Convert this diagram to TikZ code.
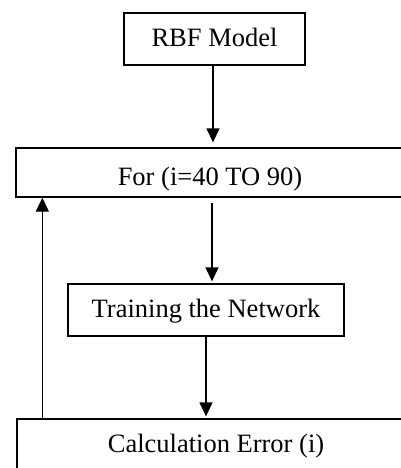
\documentclass[tikz,border=0pt]{standalone}
\usepackage{fontspec}
\setmainfont{Liberation Serif}
\usetikzlibrary{arrows.meta}
\begin{document}
\begin{tikzpicture}[x=1pt,y=-1pt,
  box/.style={draw, line width=1.3pt, inner sep=0pt, font=\fontsize{26.5}{30}\selectfont},
  arr/.style={line width=1.3pt, -{Triangle[width=13pt,length=14pt]}}]
\useasboundingbox (0,0) rectangle (401,468);
\clip (0,0) rectangle (401,468);
\node[box, minimum width=181pt, minimum height=52pt, text height=20pt, text depth=4pt] (rbf) at (214.5,39) {RBF Model};
\node[box, minimum width=388pt, minimum height=49pt, text height=25pt, text depth=0pt] (forbox) at (210,172.5) {For (i=40 TO 90)};
\node[box, minimum width=276pt, minimum height=52pt, text height=20pt, text depth=5pt] (train) at (206,310) {Training the Network};
\node[box, minimum width=398pt, minimum height=66pt, text height=10pt, text depth=10pt] (calc) at (216,452) {Calculation Error (i)};
\draw[arr, shorten >=5pt] ([xshift=-1.5pt]rbf.south) -- ([xshift=-1.5pt]rbf.south |- forbox.north);
\draw[arr, shorten <=5pt, shorten >=2pt] ([xshift=2pt]forbox.south) -- ([xshift=2pt]forbox.south |- train.north);
\draw[arr, shorten >=2pt] (train.south) -- (train.south |- calc.north);
\draw[arr] ([xshift=26pt]calc.north west) -- ([xshift=26pt]calc.north west |- forbox.south);
\end{tikzpicture}
\end{document}
